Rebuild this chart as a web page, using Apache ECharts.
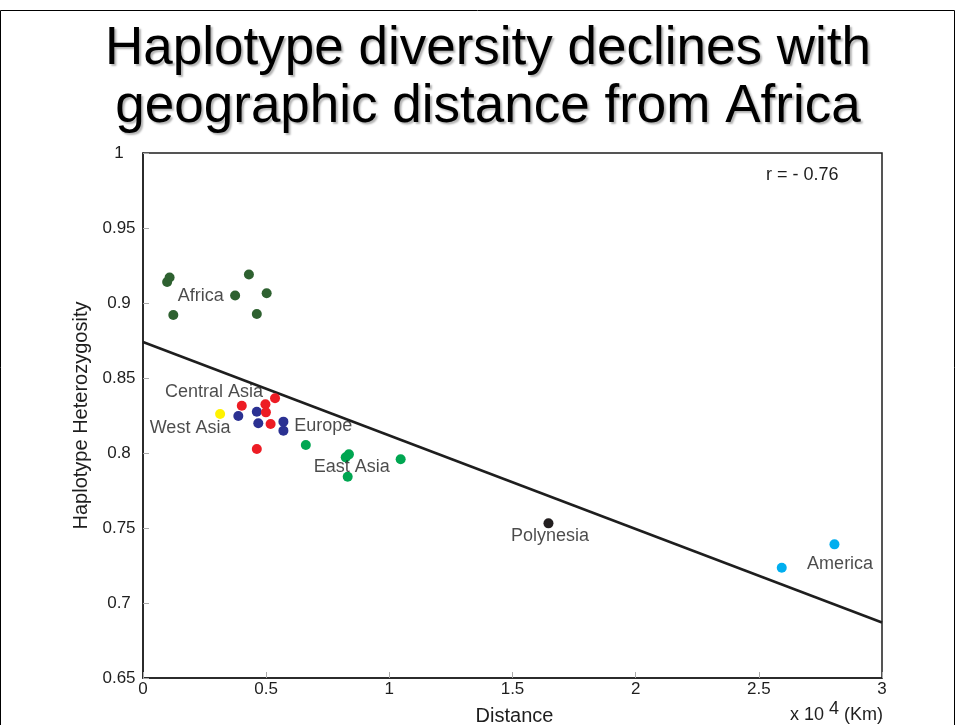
<!DOCTYPE html>
<html>
<head>
<meta charset="utf-8">
<script src="https://cdn.jsdelivr.net/npm/echarts@6/dist/echarts.min.js"></script>
<style>
  html, body { margin: 0; padding: 0; background: #fff; }
  #chart { width: 956px; height: 725px; }
</style>
</head>
<body>
<div id="chart"></div>
<script>
// Distance from Africa (x 10^4 km) and haplotype heterozygosity per population group
const africa = [[0.098, 0.914], [0.108, 0.917], [0.430, 0.919], [0.374, 0.905], [0.502, 0.9065], [0.123, 0.892], [0.462, 0.8927]];
const westAsia = [[0.313, 0.826]];
const centralAsia = [[0.401, 0.8315], [0.497, 0.8325], [0.536, 0.8365], [0.499, 0.8271], [0.518, 0.8193], [0.462, 0.8027]];
const europe = [[0.387, 0.8247], [0.462, 0.8275], [0.468, 0.8198], [0.570, 0.8209], [0.570, 0.8149]];
const eastAsia = [[0.661, 0.8053], [0.836, 0.7991], [0.823, 0.7971], [0.831, 0.7842], [1.046, 0.7958]];
const polynesia = [[1.646, 0.7531]];
const america = [[2.807, 0.7391], [2.593, 0.7235]];

// Least-squares fit endpoints
const fitLine = [[0, 0.874], [3, 0.687]];

// Region name positions
const regionLabels = [
  ['Africa', 0.234, 0.9047],
  ['Central Asia', 0.288, 0.8404],
  ['West Asia', 0.191, 0.8164],
  ['Europe', 0.732, 0.818],
  ['East Asia', 0.847, 0.7909],
  ['Polynesia', 1.652, 0.7449],
  ['America', 2.83, 0.7258]
];

const xTicks = [0, 0.5, 1, 1.5, 2, 2.5, 3];
const yTicks = [0.65, 0.7, 0.75, 0.8, 0.85, 0.9, 0.95, 1];

const FONT = 'Liberation Sans, Arial, sans-serif';
const INK = '#1e1e1e';

const chart = echarts.init(document.getElementById('chart'), null, { renderer: 'canvas' });

function dots(name, data, color) {
  return {
    name: name, type: 'scatter', data: data, symbolSize: 10,
    itemStyle: { color: color, opacity: 1 }, z: 4, silent: true
  };
}

const option = {
  backgroundColor: '#ffffff',
  animation: false,
  textStyle: { fontFamily: FONT },
  grid: {
    left: 143, right: 74, top: 153, bottom: 47,
    containLabel: false, outerBoundsMode: 'none',
    show: true, borderColor: INK, borderWidth: 1.5
  },
  xAxis: {
    type: 'value', min: 0, max: 3, interval: 0.5,
    name: 'Distance', nameLocation: 'middle', nameGap: 28,
    nameTextStyle: { fontFamily: FONT, fontSize: 20, color: INK, padding: [0, 0, 0, 4] },
    axisLine: { show: true, lineStyle: { color: INK, width: 1.5 } },
    axisTick: { show: true, inside: true, length: 6, lineStyle: { color: '#aaa' } },
    splitLine: { show: false },
    axisLabel: {
      fontFamily: FONT, fontSize: 17, color: INK, margin: 3,
      formatter: v => (xTicks.indexOf(v) >= 0 ? String(v) : '')
    }
  },
  yAxis: {
    type: 'value', min: 0.65, max: 1, interval: 0.05,
    name: 'Haplotype Heterozygosity', nameLocation: 'middle', nameGap: 50, nameRotate: 90,
    nameTextStyle: { fontFamily: FONT, fontSize: 20, color: INK },
    axisLine: { show: true, lineStyle: { color: INK, width: 1.5 } },
    axisTick: { show: true, inside: true, length: 6, lineStyle: { color: '#aaa' } },
    splitLine: { show: false },
    axisLabel: {
      fontFamily: FONT, fontSize: 17, color: INK, margin: 24, align: 'center',
      formatter: v => {
        const t = yTicks.find(k => Math.abs(k - v) < 1e-9);
        return t === undefined ? '' : String(t);
      }
    }
  },
  series: [
    {
      name: 'fit', type: 'line', data: fitLine, symbol: 'none', silent: true,
      lineStyle: { color: INK, width: 2.5 }, z: 3
    },
    dots('Africa', africa, '#2e6130'),
    dots('West Asia', westAsia, '#fff200'),
    dots('Europe', europe, '#2b3192'),
    dots('Central Asia', centralAsia, '#ed1c24'),
    dots('East Asia', eastAsia, '#00a651'),
    dots('Polynesia', polynesia, '#231f20'),
    dots('America', america, '#00aeef'),
    {
      name: 'regions', type: 'scatter', symbolSize: 0, silent: true, z: 5,
      data: regionLabels.map(r => ({ value: [r[1], r[2]], name: r[0] })),
      label: {
        show: true, position: 'inside', formatter: p => p.name,
        fontFamily: FONT, fontSize: 18, color: INK
      }
    }
  ],
  graphic: [
    {
      // Two-line slide heading with a soft drop shadow
      type: 'text', x: 488, y: 20, z: 10, silent: true,
      style: {
        text: 'Haplotype diversity declines with\ngeographic distance from Africa',
        font: '53px ' + FONT, fill: '#000', lineHeight: 58,
        align: 'center', verticalAlign: 'top',
        textShadowColor: 'rgba(0,0,0,0.3)', textShadowBlur: 2,
        textShadowOffsetX: 2, textShadowOffsetY: 2
      }
    },
    {
      type: 'text', left: 766, top: 166, z: 10,
      style: { text: 'r = - 0.76', font: '18px ' + FONT, fill: INK }
    },
    {
      type: 'text', left: 790, top: 700, z: 10,
      style: {
        text: '{a|x 10 }{b|4}{a| (Km)}',
        rich: {
          a: { fontFamily: FONT, fontSize: 18, fill: INK, verticalAlign: 'bottom', lineHeight: 24 },
          b: { fontFamily: FONT, fontSize: 18, fill: INK, verticalAlign: 'top', lineHeight: 24, padding: [0, 0, 8, 0] }
        }
      }
    },
    {
      type: 'polyline', z: 10, silent: true,
      shape: { points: [[0.5, 725], [0.5, 10.5], [954.5, 10.5], [954.5, 725]] },
      style: { stroke: '#000', lineWidth: 1, fill: null }
    }
  ]
};

chart.setOption(option);
</script>
</body>
</html>
